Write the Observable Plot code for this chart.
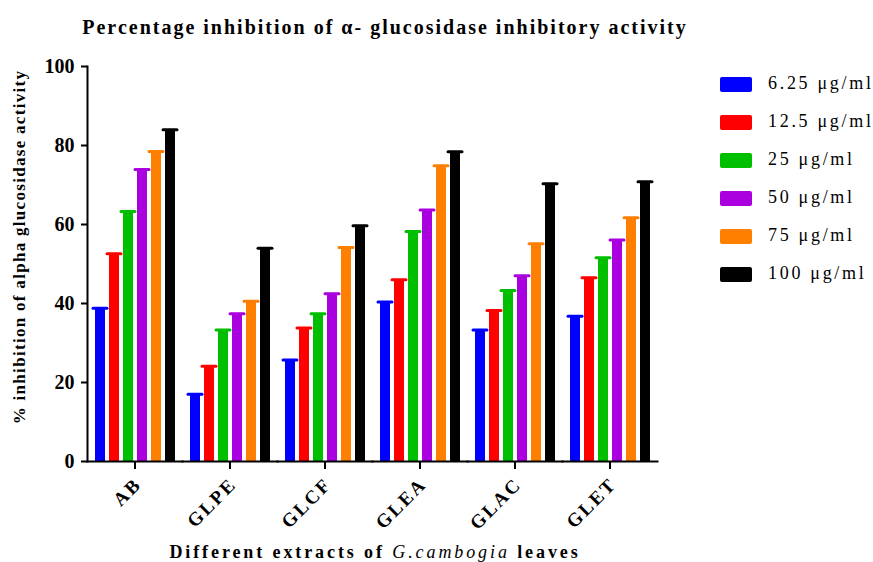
<!DOCTYPE html>
<html>
<head>
<meta charset="utf-8">
<script src="https://cdn.jsdelivr.net/npm/d3@7"></script>
<script src="https://cdn.jsdelivr.net/npm/@observablehq/plot@0.6"></script>
<style>
  html, body { margin: 0; padding: 0; background: #fff; }
  #wrap { position: relative; width: 873px; height: 562px; overflow: hidden; font-family: "Liberation Serif", serif; }
  #wrap svg { position: absolute; left: 0; top: 0; }
  .title { position: absolute; left: 385px; top: 27px; transform: translate(-50%, -50%); font-weight: bold; font-size: 20px; letter-spacing: 2px; white-space: nowrap; }
  .ylab { position: absolute; left: 20px; top: 247px; transform: translate(-50%, -50%) rotate(-90deg); font-weight: bold; font-size: 17px; letter-spacing: 1.3px; white-space: nowrap; }
  .xlab { position: absolute; left: 375px; top: 552px; transform: translate(-50%, -50%); font-weight: bold; font-size: 18px; letter-spacing: 2.9px; white-space: nowrap; }
  .xlab i { font-weight: normal; }
  .xt { position: absolute; font-weight: bold; font-size: 19px; letter-spacing: 2.2px; white-space: nowrap; transform-origin: 100% 50%; transform: translate(-100%, -50%) rotate(-45deg); line-height: 1; }
  .legend { position: absolute; left: 720px; top: 76px; }
  .legend .row { position: relative; height: 38px; }
  .legend .sw { position: absolute; left: 0; top: 1px; width: 32px; height: 15px; border-radius: 2px; }
  .legend .lt { position: absolute; left: 48px; top: -3px; font-size: 18px; letter-spacing: 2.7px; white-space: nowrap; }
</style>
</head>
<body>
<div id="wrap"></div>
<script>
const categories = ["AB", "GLPE", "GLCF", "GLEA", "GLAC", "GLET"];
const series = ["6.25 μg/ml", "12.5 μg/ml", "25 μg/ml", "50 μg/ml", "75 μg/ml", "100 μg/ml"];
const colors = ["#0000ff", "#ff0000", "#00bf00", "#aa00e0", "#ff8000", "#000000"];
const v6_25 = [38.8, 17.0, 25.7, 40.4, 33.3, 36.8];
const v12_5 = [52.6, 24.1, 33.8, 46.0, 38.2, 46.5];
const v25 = [63.3, 33.3, 37.4, 58.2, 43.3, 51.6];
const v50 = [73.9, 37.4, 42.5, 63.7, 47.0, 56.1];
const v75 = [78.5, 40.6, 54.2, 74.9, 55.1, 61.7];
const v100 = [84.0, 54.0, 59.7, 78.4, 70.3, 70.8];
const yTicks = [0, 20, 40, 60, 80, 100];
const titleText = "Percentage inhibition of α- glucosidase inhibitory activity";
const yLabel = "% inhibition of alpha glucosidase activity";

const seriesValues = [v6_25, v12_5, v25, v50, v75, v100];
const rows = [];
categories.forEach((c, i) => series.forEach((s, j) => rows.push({cat: c, s, v: seriesValues[j][i]})));

const plot = Plot.plot({
  width: 873,
  height: 562,
  marginTop: 66,
  marginBottom: 101,
  marginLeft: 86,
  marginRight: 215,
  style: {fontFamily: "Liberation Serif, serif", color: "#000", background: "transparent"},
  fx: {domain: categories, padding: 0, label: null, axis: null},
  x: {domain: series, paddingInner: 0.3, paddingOuter: 0.49, axis: null},
  y: {domain: [0, 100], label: null},
  color: {domain: series, range: colors},
  marks: [
    Plot.barY(rows, {fx: "cat", x: "s", y: "v", fill: "s"}),
    Plot.tickY(rows, {fx: "cat", x: "s", y: "v", stroke: "s", strokeWidth: 3, strokeLinecap: "round", insetLeft: -2, insetRight: -2}),
    Plot.frame({anchor: "bottom", strokeWidth: 2}),
    Plot.frame({anchor: "left", facetAnchor: "left", strokeWidth: 2}),
    Plot.axisY({ticks: yTicks, tickSize: 6, tickPadding: 7, strokeWidth: 2, fontSize: 20, fontWeight: "bold", label: null}),
    Plot.axisFx({anchor: "bottom", tickSize: 8, strokeWidth: 2, tickFormat: () => "", label: null})
  ]
});

const wrap = document.getElementById("wrap");
wrap.appendChild(plot);

// category labels, positioned through Plot's fx and y scales
const fx = plot.scale("fx");
const ys = plot.scale("y");
const y0 = ys.apply(0);
categories.forEach((c) => {
  const cx = fx.apply(c) + fx.bandwidth / 2;
  const d = document.createElement("div");
  d.className = "xt";
  d.textContent = c;
  d.style.left = (cx + 3) + "px";
  d.style.top = (y0 + 20) + "px";
  wrap.appendChild(d);
});

const t = document.createElement("div"); t.className = "title"; t.textContent = titleText; wrap.appendChild(t);
const yl = document.createElement("div"); yl.className = "ylab"; yl.textContent = yLabel; wrap.appendChild(yl);
const xl = document.createElement("div"); xl.className = "xlab";
xl.innerHTML = "Different extracts of <i>G.cambogia</i> leaves"; wrap.appendChild(xl);

const lg = document.createElement("div"); lg.className = "legend";
series.forEach((s, i) => {
  const r = document.createElement("div"); r.className = "row";
  const sw = document.createElement("div"); sw.className = "sw"; sw.style.background = colors[i];
  const lt = document.createElement("div"); lt.className = "lt"; lt.textContent = s;
  r.appendChild(sw); r.appendChild(lt); lg.appendChild(r);
});
wrap.appendChild(lg);
</script>
</body>
</html>
